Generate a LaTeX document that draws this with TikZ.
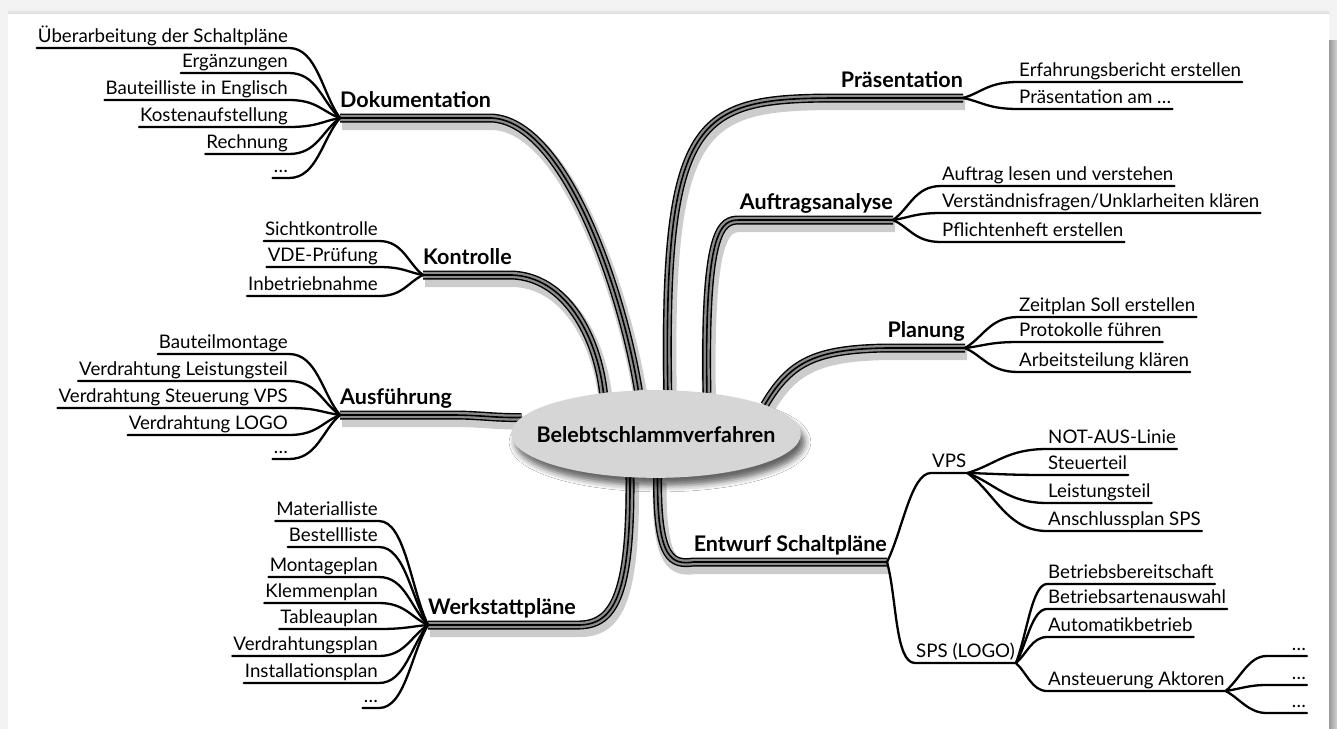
\documentclass[tikz,border=0pt]{standalone}
\usepackage{fontspec}
\setmainfont{Lato}
\usepackage{tikz}
\usetikzlibrary{calc,shapes.geometric,backgrounds,shadows.blur}
\definecolor{branchgray}{RGB}{140,140,140}
\definecolor{rootgray}{RGB}{214,214,214}
\definecolor{pagegray}{RGB}{243,243,243}

\begin{document}
\begin{tikzpicture}[x=1pt, y=-1pt,
  leaf/.style={inner xsep=1pt, inner ysep=5pt, text depth=0pt, font=\fontsize{18.7pt}{22pt}\selectfont},
  topic/.style={inner xsep=0pt, inner ysep=10pt, text depth=0pt, font=\fontsize{21.5pt}{25pt}\selectfont\bfseries},
  twig/.style={line width=2.3pt, line cap=round},
  tohub/.style={to path={.. controls ($(\tikztostart)+(#1,0)$) and ($(\tikztotarget)!0.35!(\tikztostart)$) .. (\tikztotarget)}},
  branch/.style={line width=9pt,
    preaction={draw=black, opacity=0.2, line width=14pt, transform canvas={shift={(2pt,-5pt)}}},
    postaction={draw=branchgray, line width=6.2pt},
    postaction={draw=black, line width=1.6pt}}]
\useasboundingbox (0,0) rectangle (1337,728);

\node (root) at (656,434) [ellipse, fill=rootgray, inner xsep=-17pt, inner ysep=23pt, text height=16pt, text depth=0pt,
  font=\fontsize{21.5pt}{25pt}\selectfont\bfseries,
  blur shadow={shadow xshift=4pt, shadow yshift=-8pt, shadow blur radius=6pt, shadow opacity=60}] {Belebtschlammverfahren};

\node (dok) at (340,118) [topic, anchor=south west] {Dokumentation};
\node (kon) at (423,275) [topic, anchor=south west] {Kontrolle};
\node (aus) at (340,415) [topic, anchor=south west] {Ausführung};
\node (wer) at (428,625) [topic, anchor=south west] {Werkstattpläne};
\node (pra) at (963,98) [topic, anchor=south east] {Präsentation};
\node (auf) at (893,220) [topic, anchor=south east] {Auftragsanalyse};
\node (pla) at (965,348) [topic, anchor=south east] {Planung};
\node (ent) at (887,562) [topic, anchor=south east] {Entwurf Schaltpläne};

\node (d1) at (289,48) [leaf, anchor=south east] {Überarbeitung der Schaltpläne};
\node (d2) at (289,73) [leaf, anchor=south east] {Ergänzungen};
\node (d3) at (289,100) [leaf, anchor=south east] {Bauteilliste in Englisch};
\node (d4) at (289,127) [leaf, anchor=south east] {Kostenaufstellung};
\node (d5) at (289,154) [leaf, anchor=south east] {Rechnung};
\node (d6) at (289,178) [leaf, anchor=south east] {…};
\draw[twig] (d1.south west) -- (d1.south east) to[tohub=28] (dok.south west);
\draw[twig] (d2.south west) -- (d2.south east) to[tohub=28] (dok.south west);
\draw[twig] (d3.south west) -- (d3.south east) to[tohub=28] (dok.south west);
\draw[twig] (d4.south west) -- (d4.south east) to[tohub=28] (dok.south west);
\draw[twig] (d5.south west) -- (d5.south east) to[tohub=28] (dok.south west);
\draw[twig] (d6.south west) -- (d6.south east) to[tohub=28] (dok.south west);

\node (k1) at (379,241) [leaf, anchor=south east] {Sichtkontrolle};
\node (k2) at (379,267) [leaf, anchor=south east] {VDE-Prüfung};
\node (k3) at (379,296) [leaf, anchor=south east] {Inbetriebnahme};
\draw[twig] (k1.south west) -- (k1.south east) to[tohub=24] (kon.south west);
\draw[twig] (k2.south west) -- (k2.south east) to[tohub=24] (kon.south west);
\draw[twig] (k3.south west) -- (k3.south east) to[tohub=24] (kon.south west);

\node (a1) at (289,354) [leaf, anchor=south east] {Bauteilmontage};
\node (a2) at (289,381) [leaf, anchor=south east] {Verdrahtung Leistungsteil};
\node (a3) at (289,408) [leaf, anchor=south east] {Verdrahtung Steuerung VPS};
\node (a4) at (289,435) [leaf, anchor=south east] {Verdrahtung LOGO};
\node (a5) at (289,459) [leaf, anchor=south east] {…};
\draw[twig] (a1.south west) -- (a1.south east) to[tohub=28] (aus.south west);
\draw[twig] (a2.south west) -- (a2.south east) to[tohub=28] (aus.south west);
\draw[twig] (a3.south west) -- (a3.south east) to[tohub=28] (aus.south west);
\draw[twig] (a4.south west) -- (a4.south east) to[tohub=28] (aus.south west);
\draw[twig] (a5.south west) -- (a5.south east) to[tohub=28] (aus.south west);

\node (w1) at (379,521) [leaf, anchor=south east] {Materialliste};
\node (w2) at (379,547) [leaf, anchor=south east] {Bestellliste};
\node (w3) at (379,577) [leaf, anchor=south east] {Montageplan};
\node (w4) at (379,603) [leaf, anchor=south east] {Klemmenplan};
\node (w5) at (379,629) [leaf, anchor=south east] {Tableauplan};
\node (w6) at (379,656) [leaf, anchor=south east] {Verdrahtungsplan};
\node (w7) at (379,683) [leaf, anchor=south east] {Installationsplan};
\node (w8) at (379,708) [leaf, anchor=south east] {…};
\draw[twig] (w1.south west) -- (w1.south east) to[tohub=26] (wer.south west);
\draw[twig] (w2.south west) -- (w2.south east) to[tohub=26] (wer.south west);
\draw[twig] (w3.south west) -- (w3.south east) to[tohub=26] (wer.south west);
\draw[twig] (w4.south west) -- (w4.south east) to[tohub=26] (wer.south west);
\draw[twig] (w5.south west) -- (w5.south east) to[tohub=26] (wer.south west);
\draw[twig] (w6.south west) -- (w6.south east) to[tohub=26] (wer.south west);
\draw[twig] (w7.south west) -- (w7.south east) to[tohub=26] (wer.south west);
\draw[twig] (w8.south west) -- (w8.south east) to[tohub=26] (wer.south west);

\node (p1) at (1018,82) [leaf, anchor=south west] {Erfahrungsbericht erstellen};
\node (p2) at (1018,109) [leaf, anchor=south west] {Präsentation am …};
\draw[twig] (p1.south east) -- (p1.south west) to[tohub=-30] (pra.south east);
\draw[twig] (p2.south east) -- (p2.south west) to[tohub=-30] (pra.south east);

\node (f1) at (941,186) [leaf, anchor=south west] {Auftrag lesen und verstehen};
\node (f2) at (941,213) [leaf, anchor=south west] {Verständnisfragen/Unklarheiten klären};
\node (f3) at (941,242) [leaf, anchor=south west] {Pflichtenheft erstellen};
\draw[twig] (f1.south east) -- (f1.south west) to[tohub=-26] (auf.south east);
\draw[twig] (f2.south east) -- (f2.south west) to[tohub=-26] (auf.south east);
\draw[twig] (f3.south east) -- (f3.south west) to[tohub=-26] (auf.south east);

\node (l1) at (1018,317) [leaf, anchor=south west] {Zeitplan Soll erstellen};
\node (l2) at (1018,342) [leaf, anchor=south west] {Protokolle führen};
\node (l3) at (1018,372) [leaf, anchor=south west] {Arbeitsteilung klären};
\draw[twig] (l1.south east) -- (l1.south west) to[tohub=-28] (pla.south east);
\draw[twig] (l2.south east) -- (l2.south west) to[tohub=-28] (pla.south east);
\draw[twig] (l3.south east) -- (l3.south west) to[tohub=-28] (pla.south east);

\node (vps) at (931,473) [leaf, anchor=south west] {VPS};
\node (sps) at (915,663) [leaf, anchor=south west] {SPS (LOGO)};
\draw[twig] (vps.south east) -- (vps.south west) to[tohub=-20] (ent.south east);
\draw[twig] (sps.south east) -- (sps.south west) to[tohub=-20] (ent.south east);

\node (v1) at (1047,449) [leaf, anchor=south west] {NOT-AUS-Linie};
\node (v2) at (1047,475) [leaf, anchor=south west] {Steuerteil};
\node (v3) at (1047,503) [leaf, anchor=south west] {Leistungsteil};
\node (v4) at (1047,531) [leaf, anchor=south west] {Anschlussplan SPS};
\draw[twig] (v1.south east) -- (v1.south west) to[tohub=-40] (vps.south east);
\draw[twig] (v2.south east) -- (v2.south west) to[tohub=-40] (vps.south east);
\draw[twig] (v3.south east) -- (v3.south west) to[tohub=-40] (vps.south east);
\draw[twig] (v4.south east) -- (v4.south west) to[tohub=-40] (vps.south east);

\node (s1) at (1047,584) [leaf, anchor=south west] {Betriebsbereitschaft};
\node (s2) at (1047,609) [leaf, anchor=south west] {Betriebsartenauswahl};
\node (s3) at (1047,637) [leaf, anchor=south west] {Automatikbetrieb};
\node (s4) at (1047,691) [leaf, anchor=south west] {Ansteuerung Aktoren};
\draw[twig] (s1.south east) -- (s1.south west) to[tohub=-15] (sps.south east);
\draw[twig] (s2.south east) -- (s2.south west) to[tohub=-15] (sps.south east);
\draw[twig] (s3.south east) -- (s3.south west) to[tohub=-15] (sps.south east);
\draw[twig] (s4.south east) -- (s4.south west) to[tohub=-15] (sps.south east);

\node (e1) at (1307,656) [leaf, anchor=south east, text width=38pt, align=right] {…};
\node (e2) at (1307,685) [leaf, anchor=south east, text width=38pt, align=right] {…};
\node (e3) at (1307,713) [leaf, anchor=south east, text width=38pt, align=right] {…};
\draw[twig] (e1.south east) -- (e1.south west) to[tohub=-18] (s4.south east);
\draw[twig] (e2.south east) -- (e2.south west) to[tohub=-18] (s4.south east);
\draw[twig] (e3.south east) -- (e3.south west) to[tohub=-18] (s4.south east);

\begin{pgfonlayer}{background}
\fill[pagegray] (-20,-20) rectangle (1360,760);
\shade[top color=pagegray, bottom color=gray!30] (8,9) rectangle (1329,14);
\shade[left color=gray!80, right color=gray!35] (1329,40) rectangle (1337,760);
\fill[white] (8,14) rectangle (1329,760);
\draw[branch] (root.112) .. controls (622,290) and (565,121) .. (dok.south east) -- (dok.south west);
\draw[branch] (root.142) .. controls (597,335) and (565,277) .. (kon.south east) -- (kon.south west);
\draw[branch] (root.173) .. controls (495,418) and (480,415) .. (aus.south east) -- (aus.south west);
\draw[branch] (root.239) .. controls (631,600) and (612,626) .. (wer.south east) -- (wer.south west);
\draw[branch] (root.75) .. controls (663,110) and (700,98) .. (pra.south west) -- (pra.south east);
\draw[branch] (root.39) .. controls (704,225) and (722,220) .. (auf.south west) -- (auf.south east);
\draw[branch] (root.15) .. controls (790,362) and (815,349) .. (pla.south west) -- (pla.south east);
\draw[branch] (root.272) .. controls (657,560) and (672,565) .. (ent.south west) -- (ent.south east);
\end{pgfonlayer}
\end{tikzpicture}
\end{document}
